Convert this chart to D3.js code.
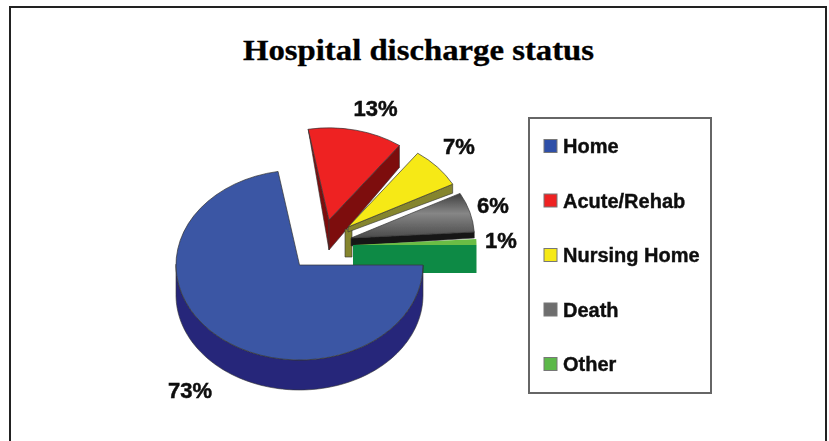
<!DOCTYPE html>
<html lang="en">
<head>
    <meta charset="UTF-8">
    <title>Hospital discharge status</title>
    <script src="https://cdn.jsdelivr.net/npm/d3@7"></script>
    <style>
        body { margin: 0; background: white; }
        svg { display: block; }
        .face { vector-effect: non-scaling-stroke; }
    </style>
</head>
<body>
<script>
    // values
    const categories = ["Home", "Acute/Rehab", "Nursing Home", "Death", "Other"];
    const percents = [73, 13, 7, 6, 1];
    const percentLabels = ["73%", "13%", "7%", "6%", "1%"];
    const topColors = ["#3a56a4", "#ee2024", "#f6e913", "url(#deathFill)", "#6abd45"];
    const sideColors = ["#27287a", "#7d1010", "#85852e", "#141414", "#0f8a45"];
    const swatchColors = ["#2f4fa8", "#ee2024", "#f6e913", "#6e6e6e", "#5cb848"];

    // layout
    const dim = {width: 829, height: 441};
    const pieBox = {cx: 299.5, cy: 265, rx: 123.5, ry: 95};
    const explode = [
        {dx: 0, dy: 0, inner: 30, outer: 30, size: 1, edge: "#333"},
        {dx: 29.5, dy: -45, inner: 30, outer: 22, size: 0.97, edge: "#333"},
        {dx: 48.5, dy: -38, inner: 5, outer: 9, size: 0.96, edge: "#333", lip: 30},
        {dx: 51.5, dy: -27, inner: 8, outer: 6, size: 1, edge: "#333"},
        {dx: 53.5, dy: -20, inner: 28, outer: 28, size: 1, edge: "#0f8a45"}
    ];
    // the 3D view of the original shifts the cuts a little (degrees, one per slice end)
    const endShift = [-2.8, -3.6, -2.8, 0, 0];
    const labelAnchors = [[190, 398], [375.5, 116], [459, 154], [493, 213], [501, 248]];
    const legendBox = {x: 529, y: 118, w: 182, h: 275};

    const svg = d3.select("body").append("svg")
        .attr("width", dim.width)
        .attr("height", dim.height);

    const defs = svg.append("defs");
    defs.append("filter").attr("id", "soft")
        .attr("x", "-5%").attr("y", "-5%").attr("width", "110%").attr("height", "110%")
        .append("feGaussianBlur").attr("stdDeviation", 0.6);
    const grad = defs.append("linearGradient").attr("id", "deathFill")
        .attr("x1", 0).attr("x2", 0).attr("y1", 0).attr("y2", 1);
    grad.append("stop").attr("offset", "0%").attr("stop-color", "#3f3f3f");
    grad.append("stop").attr("offset", "45%").attr("stop-color", "#868686");
    grad.append("stop").attr("offset", "100%").attr("stop-color", "#4a4a4a");

    // frame, open at the bottom
    svg.append("path")
        .attr("d", d3.line()([[10, dim.height], [10, 7], [826, 7], [826, dim.height]]))
        .attr("fill", "none")
        .attr("stroke", "#222")
        .attr("stroke-width", 2);

    svg.append("text")
        .attr("x", 418.5)
        .attr("y", 59.5)
        .attr("text-anchor", "middle")
        .attr("font-family", "'Liberation Serif'")
        .attr("font-weight", "bold")
        .attr("font-size", 29)
        .attr("textLength", 351)
        .attr("lengthAdjust", "spacingAndGlyphs")
        .attr("fill", "#000")
        .attr("stroke", "#000")
        .attr("stroke-width", 0.3)
        .text("Hospital discharge status");

    const chart = svg.append("g").attr("filter", "url(#soft)");

    const rad = d3.scaleLinear().domain([0, 180]).range([0, Math.PI]);
    const slices = d3.pie().sort(null)
        .startAngle(Math.PI / 2)
        .endAngle(Math.PI / 2 + 2 * Math.PI)(percents)
        .map((d, i) => ({
            ...d,
            startAngle: d.startAngle + (i ? rad(endShift[i - 1]) : 0),
            endAngle: d.endAngle + rad(endShift[i])
        }));
    const arc = d3.arc().innerRadius(0);
    const squash = pieBox.ry / pieBox.rx;

    // point on the pie rim, in the slice's own coordinates
    const rim = (a, k = 1) => [Math.sin(a) * pieBox.rx * k, -Math.cos(a) * pieBox.ry * k];
    const poly = d3.line();

    function sidePath(d, i) {
        const e = explode[i];
        if (i === 0) {
            // front wall of the big slice
            const angles = d3.range(Math.PI / 2, 3 * Math.PI / 2 + 0.01, 0.03);
            const top = angles.map(a => rim(a));
            const bottom = top.map(p => [p[0], p[1] + e.outer]).reverse();
            return poly(top.concat(bottom)) + "Z";
        }
        const end = rim(d.endAngle, e.size);
        return poly([[0, 0], end, [end[0], end[1] + e.outer], [0, e.inner]]) + "Z";
    }

    // pieces are drawn back to front, the big slice goes last
    const order = [1, 2, 3, 4, 0];
    order.forEach(i => {
        const d = slices[i], e = explode[i];
        const g = chart.append("g")
            .attr("transform", `translate(${pieBox.cx + e.dx},${pieBox.cy + e.dy})`);

        if (i === 1) {
            // thin wedge along the left cut
            g.append("path")
                .attr("d", poly([rim(d.startAngle, e.size), [0, 0], [0, e.inner]]) + "Z")
                .attr("fill", sideColors[i])
                .attr("stroke", "#333").attr("stroke-width", 0.6);
        }
        if (e.lip) {
            // short post under the tip of the yellow slice
            g.append("path")
                .attr("d", poly([[-3, 2], [4, 3], [4, e.lip], [-3, e.lip]]) + "Z")
                .attr("fill", sideColors[i])
                .attr("stroke", "#333").attr("stroke-width", 0.6);
        }
        g.append("path")
            .attr("d", sidePath(d, i))
            .attr("fill", sideColors[i])
            .attr("stroke", "#333").attr("stroke-width", i === 4 ? 0 : 0.6);
        g.append("path")
            .attr("class", "face")
            .attr("transform", `scale(1,${squash})`)
            .attr("d", arc.outerRadius(pieBox.rx * e.size)(d))
            .attr("fill", topColors[i])
            .attr("stroke", e.edge).attr("stroke-width", i === 4 ? 0 : 0.7);
    });

    chart.selectAll(".pct")
        .data(percentLabels)
        .join("text")
        .attr("class", "pct")
        .attr("x", (d, i) => labelAnchors[i][0])
        .attr("y", (d, i) => labelAnchors[i][1])
        .attr("text-anchor", "middle")
        .attr("font-family", "'Liberation Sans'")
        .attr("font-weight", "bold")
        .attr("font-size", 22)
        .attr("fill", "#111")
        .attr("stroke", "#111")
        .attr("stroke-width", 0.5)
        .text(d => d);

    // legend
    const legend = chart.append("g");
    legend.append("rect")
        .attr("x", legendBox.x).attr("y", legendBox.y)
        .attr("width", legendBox.w).attr("height", legendBox.h)
        .attr("fill", "white")
        .attr("stroke", "#666")
        .attr("stroke-width", 2);

    const legendY = d3.scalePoint()
        .domain(categories)
        .range([146, 364]);

    legend.selectAll("rect.swatch")
        .data(categories)
        .join("rect")
        .attr("class", "swatch")
        .attr("x", 544)
        .attr("y", d => legendY(d) - 6.5)
        .attr("width", 13)
        .attr("height", 13)
        .attr("fill", (d, i) => swatchColors[i])
        .attr("stroke", "#777")
        .attr("stroke-width", 1);

    legend.selectAll("text")
        .data(categories)
        .join("text")
        .attr("x", 563)
        .attr("y", d => legendY(d) + 7)
        .attr("font-family", "'Liberation Sans'")
        .attr("font-weight", "bold")
        .attr("font-size", 20)
        .attr("fill", "#111")
        .attr("stroke", "#111")
        .attr("stroke-width", 0.4)
        .text(d => d);
</script>
</body>
</html>
